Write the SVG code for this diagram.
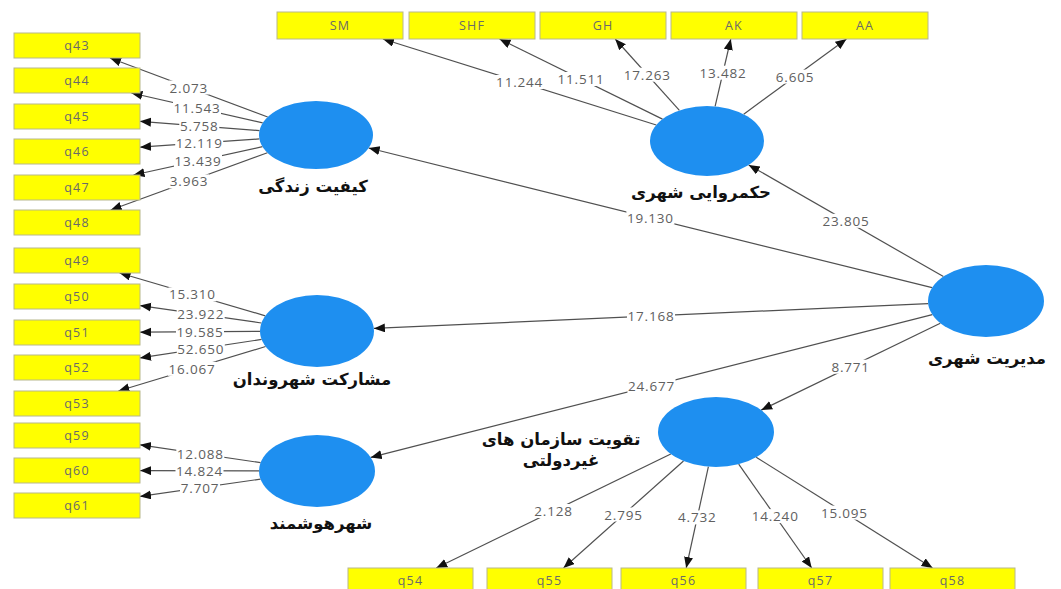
<svg xmlns="http://www.w3.org/2000/svg" width="1061" height="589" viewBox="0 0 1061 589">
<style>
.bx{fill:#ffff00;stroke:#b8b88c;stroke-width:1}
.bt{font-family:"Open Sans","Liberation Sans",sans-serif;font-size:12.5px;fill:#6a6a6a;text-anchor:middle;dominant-baseline:central;letter-spacing:1.2px}
.el{fill:#1e8ff0}
.nl{font-family:"DejaVu Sans","Noto Sans",sans-serif;font-weight:bold;font-size:16.5px;fill:#111;text-anchor:middle;letter-spacing:1.5px}
.ln{stroke:#505050;stroke-width:1.2;fill:none;marker-end:url(#ah)}
.lb{font-family:"Open Sans","Liberation Sans",sans-serif;font-size:13.5px;fill:#606060;text-anchor:middle;dominant-baseline:central;letter-spacing:0.8px}
.bg{fill:#fff}
</style>
<defs>
<marker id="ah" markerUnits="userSpaceOnUse" markerWidth="12" markerHeight="10" refX="11" refY="4.5" orient="auto">
<path d="M0,0 L11,4.5 L0,9 z" fill="#111"/>
</marker>
</defs>
<rect width="1061" height="589" fill="#fff"/>
<g id="connectors">
<line class="ln" x1="267.7" y1="117.0" x2="110.0" y2="58.0"/>
<line class="ln" x1="262.7" y1="122.9" x2="131.4" y2="93.0"/>
<line class="ln" x1="259.5" y1="130.6" x2="140" y2="121.3"/>
<line class="ln" x1="259.4" y1="138.9" x2="140" y2="147.2"/>
<line class="ln" x1="262.5" y1="146.7" x2="133.5" y2="175"/>
<line class="ln" x1="267.4" y1="152.8" x2="110.7" y2="210"/>
<line class="ln" x1="265.3" y1="315.8" x2="119.6" y2="273"/>
<line class="ln" x1="261.4" y1="323.0" x2="140" y2="305.6"/>
<line class="ln" x1="260" y1="331.4" x2="140" y2="332.2"/>
<line class="ln" x1="261.6" y1="339.4" x2="140" y2="357.9"/>
<line class="ln" x1="265.6" y1="346.5" x2="118.4" y2="391"/>
<line class="ln" x1="260.6" y1="462.7" x2="140" y2="444.8"/>
<line class="ln" x1="259" y1="470.9" x2="140" y2="470.6"/>
<line class="ln" x1="260.5" y1="479.1" x2="140" y2="496.4"/>
<line class="ln" x1="656.3" y1="125.0" x2="382.9" y2="39"/>
<line class="ln" x1="662.5" y1="119.1" x2="499.5" y2="39"/>
<line class="ln" x1="679.4" y1="110.4" x2="615.2" y2="39"/>
<line class="ln" x1="715.1" y1="106.4" x2="730.8" y2="39"/>
<line class="ln" x1="743.7" y1="114.2" x2="846.5" y2="39"/>
<line class="ln" x1="943.4" y1="276.6" x2="748.7" y2="164.9"/>
<line class="ln" x1="932.1" y1="287.7" x2="368.7" y2="148.0"/>
<line class="ln" x1="928.2" y1="303.6" x2="373.9" y2="328.4"/>
<line class="ln" x1="932.3" y1="314.6" x2="370.7" y2="457.4"/>
<line class="ln" x1="940.3" y1="323.2" x2="761.2" y2="410.1"/>
<line class="ln" x1="670.8" y1="454.0" x2="436.2" y2="568"/>
<line class="ln" x1="683.5" y1="461.0" x2="563.5" y2="568"/>
<line class="ln" x1="708.4" y1="466.7" x2="686.2" y2="568"/>
<line class="ln" x1="738.7" y1="464.2" x2="811.7" y2="568"/>
<line class="ln" x1="756.2" y1="457.2" x2="932.6" y2="568"/>
<rect class="bg" x="168.8" y="80.5" width="40" height="14"/>
<rect class="bg" x="173" y="101" width="48" height="14"/>
<rect class="bg" x="179.3" y="119" width="40" height="14"/>
<rect class="bg" x="175.2" y="136" width="48" height="14"/>
<rect class="bg" x="174" y="153.9" width="48" height="14"/>
<rect class="bg" x="169" y="174.4" width="40" height="14"/>
<rect class="bg" x="168.4" y="287.4" width="48" height="14"/>
<rect class="bg" x="176.7" y="307.3" width="48" height="14"/>
<rect class="bg" x="176" y="324.8" width="48" height="14"/>
<rect class="bg" x="176.8" y="341.7" width="48" height="14"/>
<rect class="bg" x="168" y="361.8" width="48" height="14"/>
<rect class="bg" x="176.3" y="446.7" width="48" height="14"/>
<rect class="bg" x="175.5" y="463.7" width="48" height="14"/>
<rect class="bg" x="180" y="480.7" width="40" height="14"/>
<rect class="bg" x="495.6" y="75" width="48" height="14"/>
<rect class="bg" x="557" y="72" width="48" height="14"/>
<rect class="bg" x="623.3" y="67.7" width="48" height="14"/>
<rect class="bg" x="699" y="65.7" width="48" height="14"/>
<rect class="bg" x="775" y="69.6" width="40" height="14"/>
<rect class="bg" x="822" y="213.8" width="48" height="14"/>
<rect class="bg" x="626.4" y="210.8" width="48" height="14"/>
<rect class="bg" x="627" y="309" width="48" height="14"/>
<rect class="bg" x="627.5" y="379" width="48" height="14"/>
<rect class="bg" x="830.7" y="359.7" width="40" height="14"/>
<rect class="bg" x="533.5" y="504" width="40" height="14"/>
<rect class="bg" x="603.5" y="507.5" width="40" height="14"/>
<rect class="bg" x="677.3" y="510.4" width="40" height="14"/>
<rect class="bg" x="751.2" y="509.1" width="48" height="14"/>
<rect class="bg" x="820.4" y="505.6" width="48" height="14"/>
<text class="lb" x="188.8" y="87.5">2.073</text>
<text class="lb" x="197" y="108">11.543</text>
<text class="lb" x="199.3" y="126">5.758</text>
<text class="lb" x="199.2" y="143">12.119</text>
<text class="lb" x="198" y="160.9">13.439</text>
<text class="lb" x="189" y="181.4">3.963</text>
<text class="lb" x="192.4" y="294.4">15.310</text>
<text class="lb" x="200.7" y="314.3">23.922</text>
<text class="lb" x="200" y="331.8">19.585</text>
<text class="lb" x="200.8" y="348.7">52.650</text>
<text class="lb" x="192" y="368.8">16.067</text>
<text class="lb" x="200.3" y="453.7">12.088</text>
<text class="lb" x="199.5" y="470.7">14.824</text>
<text class="lb" x="200" y="487.7">7.707</text>
<text class="lb" x="519.6" y="82">11.244</text>
<text class="lb" x="581" y="79">11.511</text>
<text class="lb" x="647.3" y="74.7">17.263</text>
<text class="lb" x="723" y="72.7">13.482</text>
<text class="lb" x="795" y="76.6">6.605</text>
<text class="lb" x="846" y="220.8">23.805</text>
<text class="lb" x="650.4" y="217.8">19.130</text>
<text class="lb" x="651" y="316">17.168</text>
<text class="lb" x="651.5" y="386">24.677</text>
<text class="lb" x="850.7" y="366.7">8.771</text>
<text class="lb" x="553.5" y="511">2.128</text>
<text class="lb" x="623.5" y="514.5">2.795</text>
<text class="lb" x="697.3" y="517.4">4.732</text>
<text class="lb" x="775.2" y="516.1">14.240</text>
<text class="lb" x="844.4" y="512.6">15.095</text>
</g>
<g id="q43"><rect class="bx" x="14" y="33" width="126" height="25"/><text class="bt" x="77" y="45.5">q43</text></g>
<g id="q44"><rect class="bx" x="14" y="68" width="126" height="25"/><text class="bt" x="77" y="80.5">q44</text></g>
<g id="q45"><rect class="bx" x="14" y="104" width="126" height="25"/><text class="bt" x="77" y="116.5">q45</text></g>
<g id="q46"><rect class="bx" x="14" y="139" width="126" height="25"/><text class="bt" x="77" y="151.5">q46</text></g>
<g id="q47"><rect class="bx" x="14" y="175" width="126" height="25"/><text class="bt" x="77" y="187.5">q47</text></g>
<g id="q48"><rect class="bx" x="14" y="210" width="126" height="25"/><text class="bt" x="77" y="222.5">q48</text></g>
<g id="q49"><rect class="bx" x="14" y="248" width="126" height="25"/><text class="bt" x="77" y="260.5">q49</text></g>
<g id="q50"><rect class="bx" x="14" y="284" width="126" height="25"/><text class="bt" x="77" y="296.5">q50</text></g>
<g id="q51"><rect class="bx" x="14" y="320" width="126" height="25"/><text class="bt" x="77" y="332.5">q51</text></g>
<g id="q52"><rect class="bx" x="14" y="355" width="126" height="25"/><text class="bt" x="77" y="367.5">q52</text></g>
<g id="q53"><rect class="bx" x="14" y="391" width="126" height="25"/><text class="bt" x="77" y="403.5">q53</text></g>
<g id="q59"><rect class="bx" x="14" y="423" width="126" height="25"/><text class="bt" x="77" y="435.5">q59</text></g>
<g id="q60"><rect class="bx" x="14" y="458" width="126" height="25"/><text class="bt" x="77" y="470.5">q60</text></g>
<g id="q61"><rect class="bx" x="14" y="493" width="126" height="25"/><text class="bt" x="77" y="505.5">q61</text></g>
<g id="SM"><rect class="bx" x="277" y="12" width="126" height="27"/><text class="bt" x="340" y="25.5">SM</text></g>
<g id="SHF"><rect class="bx" x="409" y="12" width="126" height="27"/><text class="bt" x="472" y="25.5">SHF</text></g>
<g id="GH"><rect class="bx" x="540" y="12" width="126" height="27"/><text class="bt" x="603" y="25.5">GH</text></g>
<g id="AK"><rect class="bx" x="671" y="12" width="126" height="27"/><text class="bt" x="734" y="25.5">AK</text></g>
<g id="AA"><rect class="bx" x="802" y="12" width="126" height="27"/><text class="bt" x="865" y="25.5">AA</text></g>
<g id="q54"><rect class="bx" x="348" y="568" width="125" height="25"/><text class="bt" x="410.5" y="580.5">q54</text></g>
<g id="q55"><rect class="bx" x="487" y="568" width="125" height="25"/><text class="bt" x="549.5" y="580.5">q55</text></g>
<g id="q56"><rect class="bx" x="621" y="568" width="125" height="25"/><text class="bt" x="683.5" y="580.5">q56</text></g>
<g id="q57"><rect class="bx" x="758" y="568" width="125" height="25"/><text class="bt" x="820.5" y="580.5">q57</text></g>
<g id="q58"><rect class="bx" x="890" y="568" width="125" height="25"/><text class="bt" x="952.5" y="580.5">q58</text></g>
<g id="quality-of-life"><ellipse class="el" cx="316" cy="135" rx="57" ry="34"/><text class="nl" x="313" y="192">کیفیت زندگی</text></g>
<g id="participation"><ellipse class="el" cx="317" cy="331" rx="57" ry="36"/><text class="nl" x="312" y="385">مشارکت شهروندان</text></g>
<g id="smart-city"><ellipse class="el" cx="317" cy="471" rx="58" ry="36"/><text class="nl" x="321" y="529">شهرهوشمند</text></g>
<g id="governance"><ellipse class="el" cx="707" cy="141" rx="57" ry="35"/><text class="nl" x="701" y="198">حکمروایی شهری</text></g>
<g id="management"><ellipse class="el" cx="986" cy="301" rx="58" ry="36"/><text class="nl" x="987" y="364">مدیریت شهری</text></g>
<g id="ngo"><ellipse class="el" cx="716" cy="432" rx="58" ry="35"/><text class="nl" x="561" y="445">تقویت سازمان های</text><text class="nl" x="561" y="466">غیردولتی</text></g>
</svg>
